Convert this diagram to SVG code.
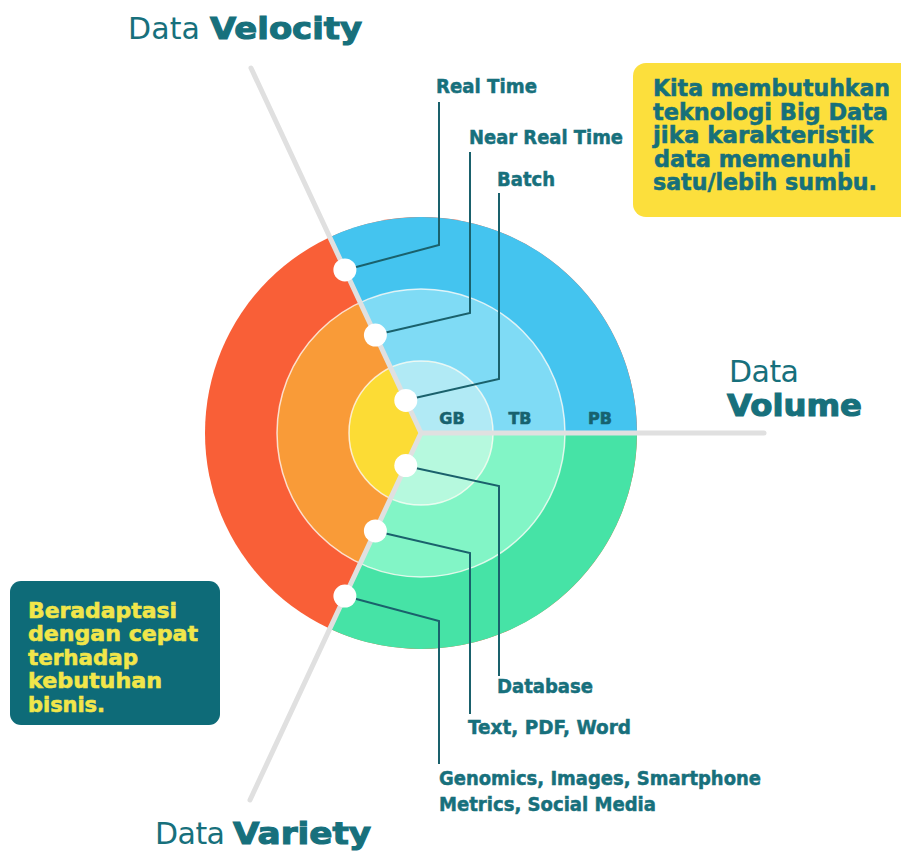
<svg xmlns="http://www.w3.org/2000/svg" width="901" height="851" viewBox="0 0 901 851">
<style>
.lbl{font-family:"DejaVu Sans",sans-serif;font-weight:bold;font-size:19px;fill:#17707c;stroke:#17707c;stroke-width:0.5}
.unit{font-family:"DejaVu Sans",sans-serif;font-weight:bold;font-size:16px;fill:#17626e;stroke:#17626e;stroke-width:0.6;text-anchor:middle}
.tl{font-family:"DejaVu Sans",sans-serif;font-size:30px;fill:#17707c}
.tb{font-weight:bold;stroke:#17707c;stroke-width:1.1}
.ybox{font-family:"DejaVu Sans",sans-serif;font-weight:bold;font-size:23px;fill:#17707a;stroke:#17707a;stroke-width:0.6}
.tbox{font-family:"DejaVu Sans",sans-serif;font-weight:bold;font-size:22px;fill:#f1e64a;stroke:#f1e64a;stroke-width:0.6}
.conn{fill:none;stroke:#1a616c;stroke-width:2}
.axis{fill:none;stroke:#e0e0e0;stroke-width:5;stroke-linecap:round;stroke-linejoin:round}
.dot{fill:#ffffff}
.ring{fill:none;stroke:#ffffff;stroke-width:1.5;stroke-opacity:0.75}
</style>
<rect width="901" height="851" fill="#ffffff"/>

<g id="rings">
  <circle cx="421" cy="433" r="216" fill="#f95f37"/>
  <path d="M421,433 L637,433 A216,216 0 0 0 329.72,237.24 Z" fill="#44c4ef"/>
  <path d="M421,433 L637,433 A216,216 0 0 1 329.72,628.76 Z" fill="#46e3a6"/>
  <circle cx="421" cy="433" r="144" fill="#f99b38"/>
  <path d="M421,433 L565,433 A144,144 0 0 0 360.15,302.49 Z" fill="#7fdbf5"/>
  <path d="M421,433 L565,433 A144,144 0 0 1 360.15,563.51 Z" fill="#82f5c6"/>
  <circle cx="421" cy="433" r="72" fill="#fcdc35"/>
  <path d="M421,433 L493,433 A72,72 0 0 0 390.57,367.75 Z" fill="#b1eaf5"/>
  <path d="M421,433 L493,433 A72,72 0 0 1 390.57,498.25 Z" fill="#b6f9de"/>
  <circle class="ring" cx="421" cy="433" r="144"/>
  <circle class="ring" cx="421" cy="433" r="72"/>
</g>

<g id="axes">
  <polyline class="axis" points="251,68 421,433 250,800"/>
  <line class="axis" x1="421" y1="433" x2="764" y2="433"/>
</g>

<g id="units">
  <text class="unit" x="452" y="424">GB</text>
  <text class="unit" x="520" y="424">TB</text>
  <text class="unit" x="600" y="424">PB</text>
</g>

<g id="connectors">
  <polyline class="conn" points="345,270 439,245 439,102"/>
  <polyline class="conn" points="375,335 470,313 470,152"/>
  <polyline class="conn" points="406,400 499,379 499,193"/>
  <polyline class="conn" points="406,466 499,486 499,676"/>
  <polyline class="conn" points="375,531 470,553 470,714"/>
  <polyline class="conn" points="345,596 439,621 439,764"/>
</g>

<g id="dots">
  <circle class="dot" cx="344.9" cy="269.9" r="11.5"/>
  <circle class="dot" cx="375.4" cy="335.1" r="11.5"/>
  <circle class="dot" cx="405.8" cy="400.4" r="11.5"/>
  <circle class="dot" cx="405.8" cy="465.6" r="11.5"/>
  <circle class="dot" cx="375.4" cy="530.9" r="11.5"/>
  <circle class="dot" cx="344.9" cy="596.1" r="11.5"/>
</g>

<g id="velocity-labels">
  <text class="lbl" x="436" y="93" textLength="101" lengthAdjust="spacingAndGlyphs">Real Time</text>
  <text class="lbl" x="469" y="144" textLength="154" lengthAdjust="spacingAndGlyphs">Near Real Time</text>
  <text class="lbl" x="497" y="186" textLength="58" lengthAdjust="spacingAndGlyphs">Batch</text>
</g>

<g id="variety-labels">
  <text class="lbl" x="497" y="693" textLength="96" lengthAdjust="spacingAndGlyphs">Database</text>
  <text class="lbl" x="468" y="734" textLength="163" lengthAdjust="spacingAndGlyphs">Text, PDF, Word</text>
  <text class="lbl" x="439" y="785" textLength="322" lengthAdjust="spacingAndGlyphs">Genomics, Images, Smartphone</text>
  <text class="lbl" x="439" y="811" textLength="217" lengthAdjust="spacingAndGlyphs">Metrics, Social Media</text>
</g>

<g id="title-velocity">
  <text class="tl" x="128" y="39" textLength="72">Data</text>
  <text class="tl tb" x="210" y="39" textLength="152" lengthAdjust="spacingAndGlyphs">Velocity</text>
</g>

<g id="title-volume">
  <text class="tl" x="729" y="382" textLength="70">Data</text>
  <text class="tl tb" x="727" y="416" textLength="135" lengthAdjust="spacingAndGlyphs">Volume</text>
</g>

<g id="title-variety">
  <text class="tl" x="155" y="844" textLength="70">Data</text>
  <text class="tl tb" x="233" y="844" textLength="138" lengthAdjust="spacingAndGlyphs">Variety</text>
</g>

<g id="note-bigdata">
  <rect x="633" y="63" width="290" height="154" rx="13" fill="#fcdf3c"/>
  <text class="ybox" x="653" y="96" textLength="237" lengthAdjust="spacingAndGlyphs">Kita membutuhkan</text>
  <text class="ybox" x="653" y="119.5" textLength="235" lengthAdjust="spacingAndGlyphs">teknologi Big Data</text>
  <text class="ybox" x="653" y="143" textLength="220" lengthAdjust="spacingAndGlyphs">jika karakteristik</text>
  <text class="ybox" x="654" y="166.5" textLength="197" lengthAdjust="spacingAndGlyphs">data memenuhi</text>
  <text class="ybox" x="653" y="190" textLength="224" lengthAdjust="spacingAndGlyphs">satu/lebih sumbu.</text>
</g>

<g id="note-adapt">
  <rect x="10" y="581" width="210" height="144" rx="11" fill="#0e6b78"/>
  <text class="tbox" x="28" y="618" textLength="149" lengthAdjust="spacingAndGlyphs">Beradaptasi</text>
  <text class="tbox" x="28" y="641" textLength="170" lengthAdjust="spacingAndGlyphs">dengan cepat</text>
  <text class="tbox" x="28" y="665" textLength="110" lengthAdjust="spacingAndGlyphs">terhadap</text>
  <text class="tbox" x="28" y="688" textLength="134" lengthAdjust="spacingAndGlyphs">kebutuhan</text>
  <text class="tbox" x="28" y="712" textLength="77" lengthAdjust="spacingAndGlyphs">bisnis.</text>
</g>
</svg>
